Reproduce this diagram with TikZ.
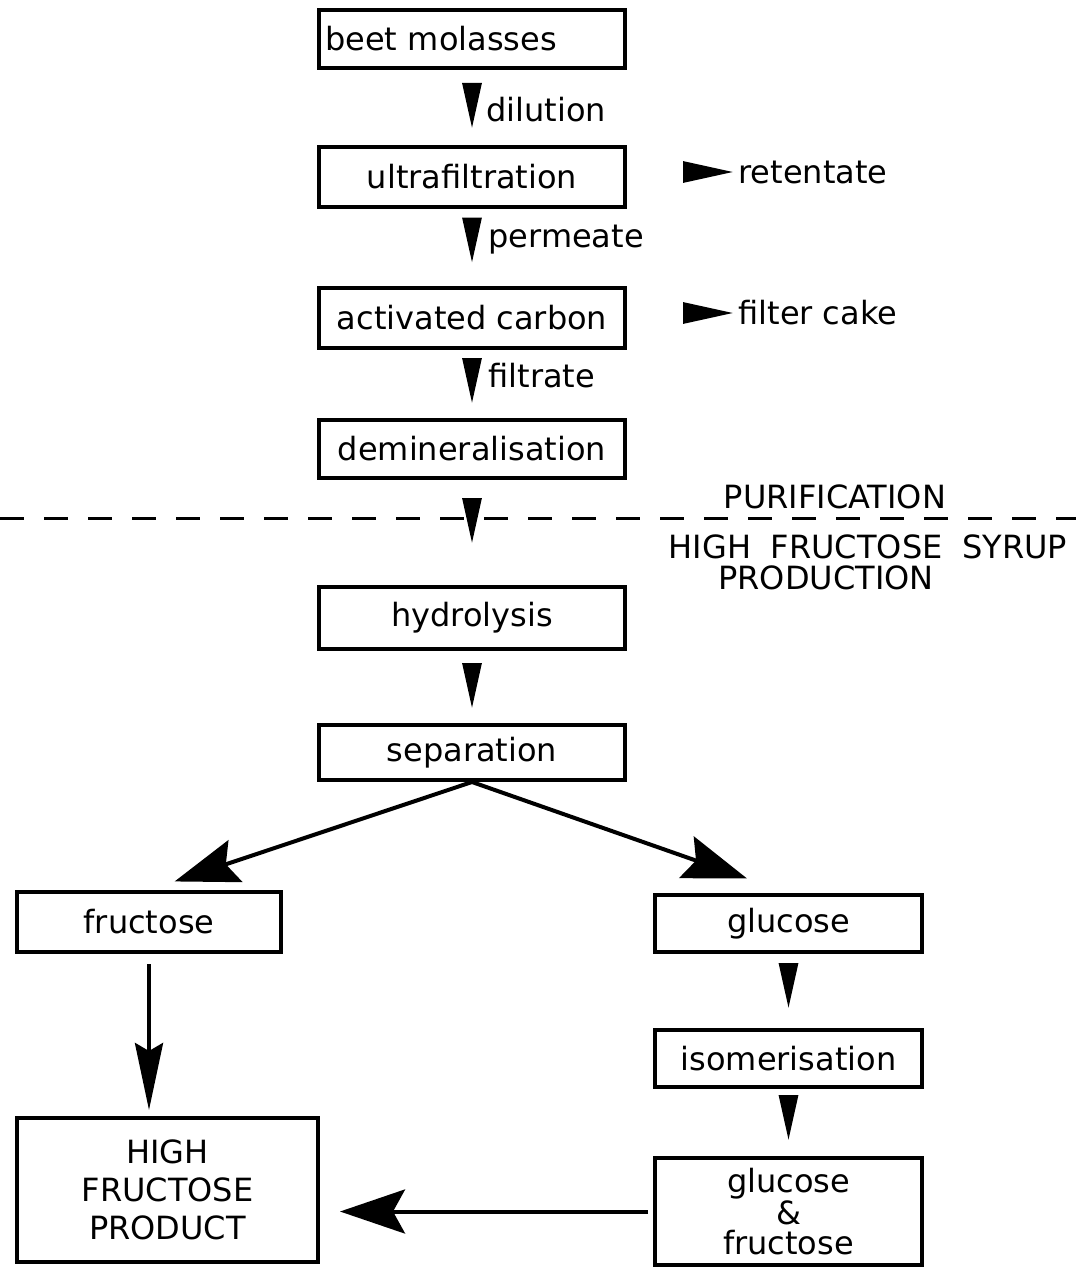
\documentclass[tikz,border=0pt]{standalone}
\usepackage{fontspec}
\setmainfont{DejaVu Sans}
\usetikzlibrary{arrows.meta}

\begin{document}
\begin{tikzpicture}[x=0.5pt,y=-0.5pt,
  every node/.style={font=\fontsize{16}{19}\selectfont},
  box/.style={draw,line width=2pt,minimum height=29pt,inner sep=3pt,align=center},
  wide/.style={box,minimum width=153pt},
  narrow/.style={box,minimum width=133.5pt},
  note/.style={inner sep=1pt,anchor=west},
  wedge/.style={line width=1.5pt,-{Triangle[length=22.5pt,width=9.5pt]}},
  flag/.style={line width=1.5pt,-{Triangle[length=25pt,width=10.5pt]}},
  big/.style={line width=2pt,-{Stealth[length=32pt,width=22pt,inset=5pt]}}]
\useasboundingbox (0,0) rectangle (1086,1279);

% PURIFICATION
\node[wide,text width=147pt,align=left] (beet) at (472,39) {beet molasses};
\node[wide,minimum height=30pt] (ultra) at (472,177) {ultrafiltration};
\node[wide,minimum height=30pt] (carbon) at (472,317.5) {activated carbon};
\node[wide] (demin) at (472,449) {demineralisation};

\node[note] (dil)  at (484,110) {dilution};
\node[note] (perm) at (486,240) {permeate};
\node[note] (filt) at (486,376) {filtrate};
\node[note] (ret)  at (736,172) {retentate};
\node[note] (cake) at (736,313) {filter cake};

% the cut between the two parts
\coordinate (cutL) at (0,518);
\coordinate (cutR) at (1076,518);
\draw[line width=1.5pt,dash pattern=on 12pt off 10pt] (cutL) -- (cutR);
\node (purif) at (835,497) {PURIFICATION};
\node (hfs)   at (868,547) {HIGH\hspace{0.3em} FRUCTOSE\hspace{0.3em} SYRUP};
\node (prodn) at (826,578) {PRODUCTION};

% HIGH FRUCTOSE SYRUP PRODUCTION
\node[wide,minimum height=31pt] (hydro) at (472,618) {hydrolysis};
\node[wide,minimum height=27.5pt] (sep) at (472,752.5) {separation};

\node[box,minimum width=132pt,minimum height=30pt] (fruc) at (149,922) {fructose};
\node[narrow,minimum height=28.5pt] (gluc) at (788.5,923.5) {glucose};
\node[narrow,minimum height=28.5pt] (isom) at (788.5,1058.5) {isomerisation};
\node[narrow,minimum height=53.5pt,font=\fontsize{16}{15}\selectfont] (glfr) at (788.5,1211.5) {glucose\\\&\\fructose};
\node[box,minimum width=150.5pt,minimum height=72pt] (hfp) at (167.5,1190) {HIGH\\FRUCTOSE\\PRODUCT};

% ARROWS
\draw[wedge,shorten <=8pt,shorten >=8.5pt] (beet.south) -- (ultra.north);
\draw[wedge,shorten <=5.5pt,shorten >=11.5pt] (ultra.south) -- (carbon.north);
\draw[wedge,shorten <=5.5pt,shorten >=7.5pt] (carbon.south) -- (demin.north);
\draw[wedge,shorten <=10.5pt,shorten >=21pt] (demin.south) -- (hydro.north);
\draw[wedge,shorten <=7.5pt,shorten >=7.5pt] (hydro.south) -- (sep.north);
\draw[wedge,shorten <=6pt,shorten >=10pt] (gluc.south) -- (isom.north);
\draw[wedge,shorten <=4.5pt,shorten >=8pt] (isom.south) -- (glfr.north);

\draw[flag,shorten <=28pt,shorten >=1.5pt] (ultra.east |- ret.west) -- (ret.west);
\draw[flag,shorten <=28pt,shorten >=1.5pt] (carbon.east |- cake.west) -- (cake.west);

\draw[big,shorten >=13.5pt] (sep.south) -- (fruc.north);
\draw[big,shorten >=22pt] (sep.south) -- (gluc.north);
\draw[line width=2pt,-{Stealth[length=33.5pt,width=14pt,inset=4pt]},
  shorten <=5pt,shorten >=3pt] (fruc.south) -- (fruc.south |- hfp.north);
\draw[line width=2pt,-{Stealth[length=32.5pt,width=22pt,inset=6pt]},
  shorten <=2.5pt,shorten >=10pt] (glfr.west) -- (glfr.west -| hfp.east);

\end{tikzpicture}
\end{document}
